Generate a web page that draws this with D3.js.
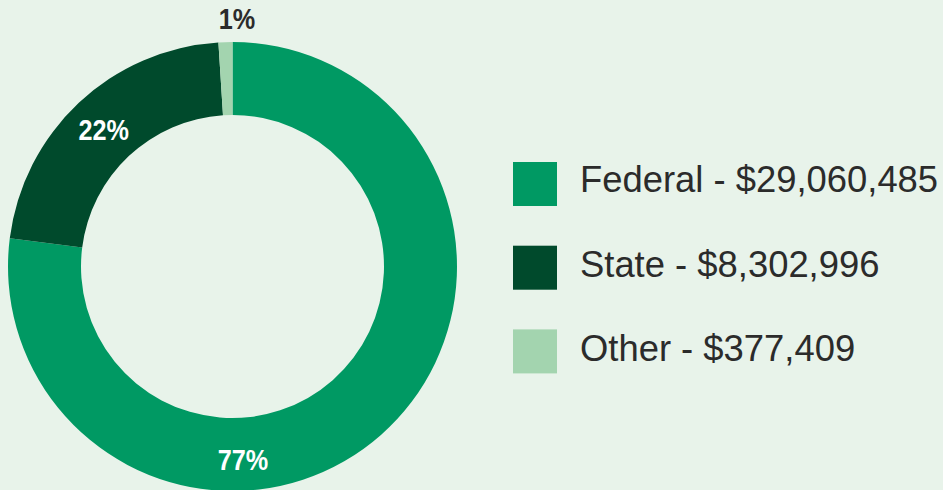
<!DOCTYPE html>
<html>
<head>
<meta charset="utf-8">
<script src="https://cdn.jsdelivr.net/npm/d3@7"></script>
<style>
  html, body { margin: 0; padding: 0; background: #E8F3EA; }
  svg { display: block; }
</style>
</head>
<body>
<svg id="chart" width="943" height="490"></svg>
<script>
const categories = ["Federal", "State", "Other"];
const amounts = [29060485, 8302996, 377409];
const colors = ["#009963", "#004A2C", "#A3D4AF"];

const W = 943, H = 490;
const cx = 232.5, cy = 266.5;
const outerR = 224.5, innerR = 151.5;

const svg = d3.select("#chart");
svg.append("rect").attr("width", W).attr("height", H).attr("fill", "#E8F3EA");

const total = d3.sum(amounts);
const pie = d3.pie().sort(null).value(d => d.value).startAngle(0).endAngle(2 * Math.PI);
const data = categories.map((c, i) => ({ name: c, value: amounts[i], color: colors[i] }));
const arcs = pie(data);
const arc = d3.arc().innerRadius(innerR).outerRadius(outerR);

const g = svg.append("g").attr("transform", `translate(${cx},${cy})`);
g.selectAll("path.slice")
  .data(arcs)
  .join("path")
  .attr("class", "slice")
  .attr("d", arc)
  .attr("fill", d => d.data.color);

// label placement: angle (deg, clockwise from top) and radius for each slice
function labelPos(d, i) {
  if (i === 1) {
    return d3.arc().innerRadius(188).outerRadius(188).centroid(d);
  }
  const spec = i === 0 ? { a: 176.9, r: 193 } : { a: 1.05, r: 247.5 };
  const t = spec.a * Math.PI / 180;
  return [Math.sin(t) * spec.r, -Math.cos(t) * spec.r];
}

g.selectAll("text.pct")
  .data(arcs)
  .join("text")
  .attr("class", "pct")
  .attr("transform", (d, i) => {
    const p = labelPos(d, i);
    return `translate(${p[0]},${p[1]}) scale(0.87,1)`;
  })
  .attr("dy", "0.36em")
  .attr("text-anchor", "middle")
  .attr("font-family", "'Liberation Sans', Arial, sans-serif")
  .attr("font-weight", "bold")
  .attr("font-size", 29)
  .attr("fill", (d, i) => i === 2 ? "#2B2B2B" : "#FFFFFF")
  .text(d => Math.round(d.value / total * 100) + "%");

// legend
const fmt = d3.format(",");
const legend = svg.append("g").attr("transform", "translate(513,162)");
const items = legend.selectAll("g.item")
  .data(data)
  .join("g")
  .attr("class", "item")
  .attr("transform", (d, i) => `translate(0,${i * 83.7})`);
items.append("rect")
  .attr("width", 44).attr("height", 44)
  .attr("fill", d => d.color);
items.append("text")
  .attr("x", 67)
  .attr("y", (d, i) => 30.3 + i * 0.8)
  .attr("font-family", "'Liberation Sans', Arial, sans-serif")
  .attr("font-size", 36.4)
  .attr("fill", "#2B2B2B")
  .text(d => `${d.name} - $${fmt(d.value)}`);
</script>
</body>
</html>
